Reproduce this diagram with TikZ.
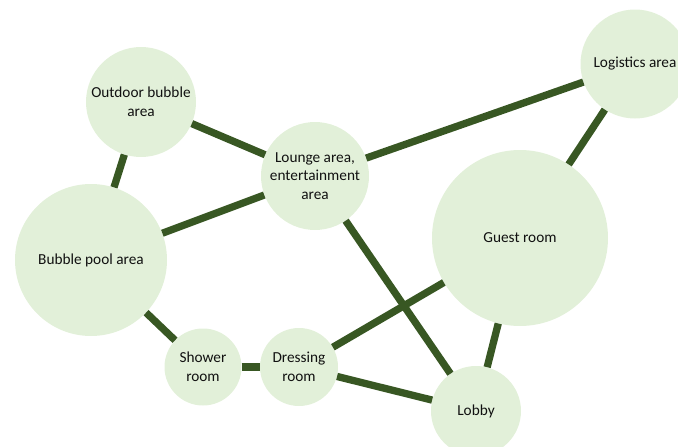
\documentclass[tikz,border=0pt]{standalone}
\usepackage{fontspec}
\setmainfont{Carlito}
\usepackage{tikz}
\usetikzlibrary{positioning}
\definecolor{Leaf}{HTML}{E2F0D9}
\definecolor{Forest}{HTML}{385723}
\definecolor{Ink}{HTML}{111111}

\begin{document}
\begin{tikzpicture}[
  x=1pt,y=-1pt,
  area/.style={circle,fill=Leaf,inner sep=0pt,align=center,text=Ink,font=\fontsize{15.3}{18.7}\selectfont},
  link/.style={line width=7.3pt,draw=Forest}
]
\clip (0,0) rectangle (678,447);
\node[area,minimum size=110pt] (outdoor) at (141,102) {Outdoor bubble\\area};
\node[area,minimum size=108pt] (lounge) at (315,176) {Lounge area,\\entertainment\\area};
\node[area,minimum size=109pt] (logistics) at (635,64) {Logistics area};
\node[area,minimum size=152pt] (pool) at (91,260) {Bubble pool area};
\node[area,minimum size=176pt] (guest) at (520,238) {Guest room};
\node[area,minimum size=77pt] (shower) at (203,367) {Shower\\room};
\node[area,minimum size=78pt] (dressing) at (299,367) {Dressing\\room};
\node[area,minimum size=90pt] (lobby) at (476,411) {Lobby};
\draw[link] (outdoor) -- (lounge);
\draw[link] (outdoor) -- (pool);
\draw[link] (lounge) -- (logistics);
\draw[link] (lounge) -- (pool);
\draw[link] (lounge) -- (lobby);
\draw[link] (logistics) -- (guest);
\draw[link] (guest) -- (dressing);
\draw[link] (guest) -- (lobby);
\draw[link] (pool) -- (shower);
\draw[link] (shower) -- (dressing);
\draw[link] (dressing) -- (lobby);
\end{tikzpicture}
\end{document}
